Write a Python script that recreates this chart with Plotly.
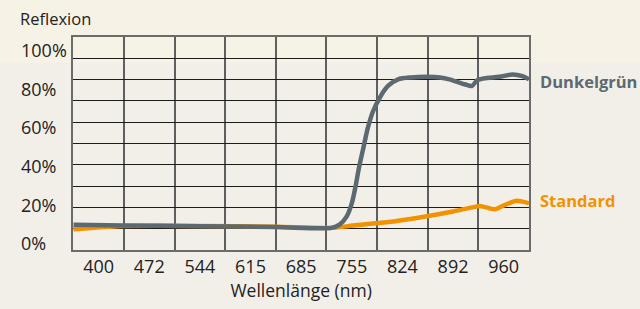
import plotly.graph_objects as go

# ---- data ----
x_tick_labels = ["400", "472", "544", "615", "685", "755", "824", "892", "960"]
x_tick_pos = [400, 470, 540, 610, 680, 750, 820, 890, 960]
y_tick_labels = ["0%", "20%", "40%", "60%", "80%", "100%"]
y_tick_pos = [2.9, 21.0, 39.1, 57.2, 75.3, 93.4]

wl_gray = [365, 435, 540, 645, 722, 733, 743, 750, 755, 760, 766, 772, 779, 789, 800,
           814, 832, 854, 872, 885, 906, 916, 924, 954, 972, 986, 995]
dunkelgruen = [11.9, 11.5, 11.2, 10.8, 10.4, 11.9, 15.8, 21.9, 29.5, 38.7, 47.9, 57.1,
               64.8, 71.7, 77.0, 80.1, 81.0, 81.3, 81.0, 80.1, 77.8, 77.0, 79.8, 81.3,
               82.4, 81.6, 80.1]

wl_orange = [365, 395, 425, 540, 645, 724, 752, 798, 844, 890, 917, 927, 940, 948,
             961, 978, 986, 995]
standard = [9.7, 10.5, 11.2, 11.3, 10.9, 10.4, 11.5, 13.0, 15.3, 18.1, 20.0, 20.7,
            19.6, 19.1, 21.1, 23.1, 22.7, 21.9]

GRAY = "#5d6971"
ORANGE = "#f39200"
TEXT = "#222222"
FONT = "Open Sans"

fig = go.Figure()
fig.add_trace(go.Scatter(x=wl_orange, y=standard, mode="lines",
                         line=dict(color=ORANGE, width=4.5, shape="spline", smoothing=0.7),
                         hoverinfo="skip", showlegend=False))
fig.add_trace(go.Scatter(x=wl_gray, y=dunkelgruen, mode="lines",
                         line=dict(color=GRAY, width=4.5, shape="spline", smoothing=0.8),
                         hoverinfo="skip", showlegend=False))
# invisible trace to carry the label axes
fig.add_trace(go.Scatter(x=[x_tick_pos[0]], y=[y_tick_pos[0]], xaxis="x2", yaxis="y2",
                         mode="markers", marker=dict(opacity=0), hoverinfo="skip",
                         showlegend=False))

L, R, T, B = 18, 111, 37, 55
plot_w = 640 - L - R
x0 = (73.3 - L) / plot_w

fig.update_layout(
    width=640, height=309,
    margin=dict(l=L, r=R, t=T, b=B),
    paper_bgcolor="#f2efe9",
    plot_bgcolor="rgba(0,0,0,0)",
    font=dict(family=FONT, color=TEXT, size=18),
    title=dict(text="Reflexion", x=20 / 640, xanchor="left", xref="container",
               y=1 - 19 / 309, yanchor="middle", yref="container",
               font=dict(size=16.5, color=TEXT, family=FONT)),
    xaxis=dict(domain=[x0, 1], range=[365, 995], tickmode="linear", tick0=365, dtick=70,
               showticklabels=False, ticks="", showgrid=True, gridcolor="#5f5f5f",
               gridwidth=1.5, showline=True, mirror=True, linecolor="#6b6b6b",
               linewidth=2, zeroline=False, fixedrange=True),
    yaxis=dict(range=[0, 100], tickmode="linear", tick0=0, dtick=10, anchor="x",
               showticklabels=False, ticks="", showgrid=True, gridcolor="#1c1c1c",
               gridwidth=1.2, showline=True, mirror=True, linecolor="#6b6b6b",
               linewidth=2, zeroline=False, fixedrange=True),
    xaxis2=dict(overlaying="x", anchor="y", side="bottom", range=[365, 995],
                tickmode="array", tickvals=x_tick_pos, ticktext=x_tick_labels,
                showgrid=False, showline=False, zeroline=False, ticks="",
                ticklabelstandoff=4, tickfont=dict(size=18, color=TEXT),
                title=dict(text="Wellenlänge (nm)", standoff=7,
                           font=dict(size=17.5, color=TEXT)),
                fixedrange=True),
    yaxis2=dict(overlaying="y", anchor="free", position=0, side="right", range=[0, 100],
                tickmode="array", tickvals=y_tick_pos, ticktext=y_tick_labels,
                showgrid=False, showline=False, zeroline=False, ticks="",
                ticklabelstandoff=2, tickfont=dict(size=18, color=TEXT),
                fixedrange=True),
    shapes=[dict(type="rect", xref="paper", yref="paper", layer="below",
                 x0=-0.1, x1=1.3, y0=(254.3 - 63) / 217.6, y1=1.3,
                 fillcolor="#f7f2e6", line=dict(width=0))],
    annotations=[
        dict(text="<b>Dunkelgrün</b>", xref="paper", yref="y", x=(538 - L) / plot_w,
             y=79.2, xanchor="left", yanchor="middle", showarrow=False,
             font=dict(size=16.5, color=GRAY, family=FONT)),
        dict(text="<b>Standard</b>", xref="paper", yref="y", x=(538 - L) / plot_w,
             y=23.1, xanchor="left", yanchor="middle", showarrow=False,
             font=dict(size=16.5, color=ORANGE, family=FONT)),
    ],
)

fig.write_html("out.html", config={"displayModeBar": False},
               post_script="document.body.style.margin='0';document.body.style.padding='0';")
